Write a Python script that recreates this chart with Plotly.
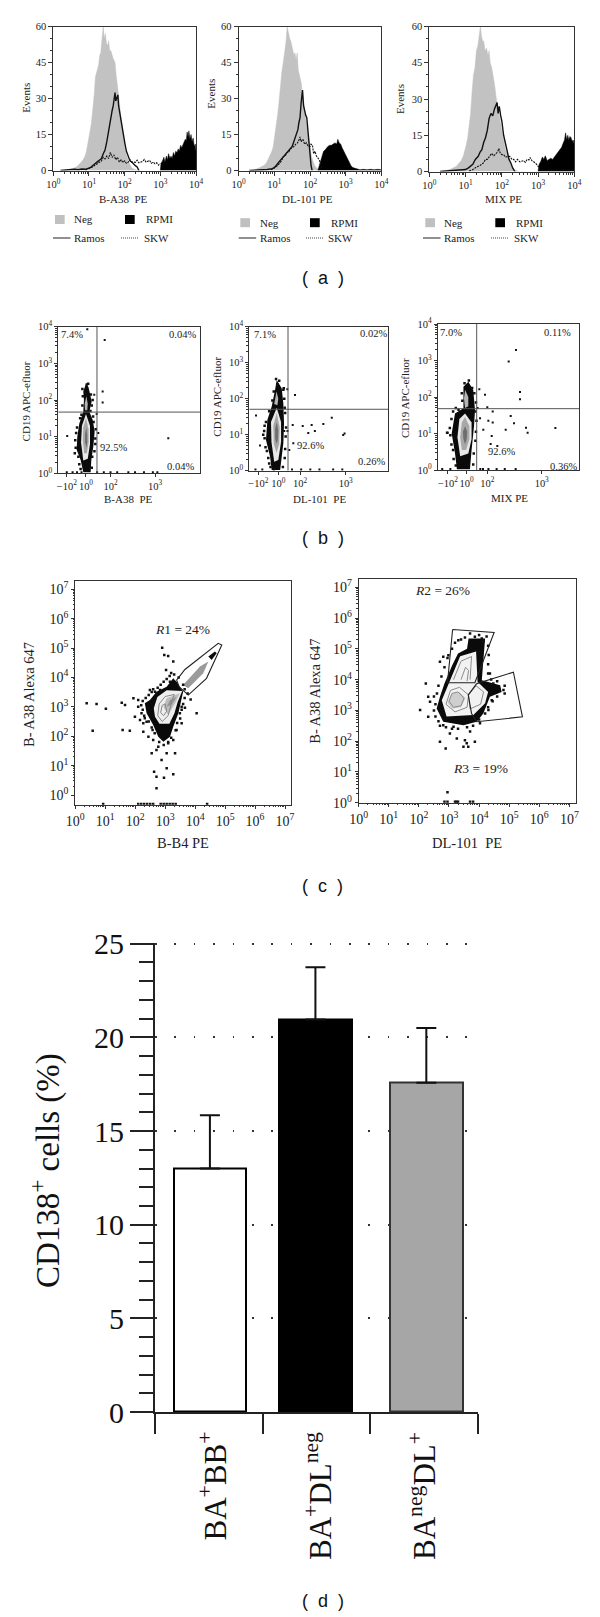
import numpy as np
import plotly.graph_objects as go

W, H = 600, 1617
SERIF = "Liberation Serif"
SANS = "Liberation Sans"
INK = "#222222"

# ---------- panel (a) histograms: log10(intensity), events ----------
a1_neg_x = [.3,.45,.55,.65,.72,.78,.84,.89,.93,.97,1.0,1.03,1.06,1.09,1.12,1.15,1.18,1.21,1.24,1.27,1.30,1.33,1.36,1.40,1.43,1.46,1.49,1.52,1.55,1.58,1.61,1.64,1.67,1.70,1.73,1.76,1.79,1.82,1.85,1.88,1.91,1.94,1.97,2.0,2.04,2.08,2.13,2.2,2.3,2.45]
a1_neg_y = [0,.3,.8,1.5,2.4,3.4,4.6,6,8,11,13,16,19,23,27,32,39,41,43,44,48,49,54,60,55,57,53,52,54,50,50,48,47,46,45,40,37,33,29,24,20,16,12,10,7,5,3,1,.3,0]
a1_ram_x = [.2,.4,.5,.6,.7,.8,.9,1.0,1.05,1.1,1.15,1.2,1.25,1.3,1.35,1.4,1.45,1.5,1.53,1.56,1.59,1.62,1.65,1.68,1.71,1.73,1.75,1.78,1.81,1.83,1.86,1.89,1.92,1.95,1.98,2.01,2.05,2.1,2.15,2.2,2.25,2.3,2.35,2.4]
a1_ram_y = [0,.3,.2,.5,.3,.6,.5,1,1.3,2,2.5,3,3.8,4.4,5,7,8.5,12,15,18,20,22,25,27,30,32.5,29,30,31.5,27,24,21,18,15,13,11,8,6,4,3.5,2.5,2,1.5,0]
a1_skw_x = [.9,1,1.1,1.2,1.3,1.35,1.4,1.45,1.5,1.55,1.6,1.65,1.7,1.75,1.8,1.85,1.9,1.95,2,2.05,2.1,2.15,2.2,2.3,2.35,2.4,2.5,2.55,2.6,2.7,2.75,2.8,2.85,2.9,2.95,3.0]
a1_skw_y = [.2,.8,1.5,2.5,3.5,4,5.5,4.8,6,5,7.5,5.5,6.5,4.5,5.5,3.5,4.5,3.3,4,3,3.5,4.5,3.6,3.4,4.3,3.2,3.8,4.6,3.5,4.2,3,3.5,2.8,3.2,2.2,3]
a1_rpm_x = [3.0,3.02,3.06,3.1,3.13,3.17,3.2,3.23,3.27,3.3,3.33,3.37,3.4,3.43,3.47,3.5,3.53,3.57,3.6,3.63,3.67,3.7,3.73,3.75,3.78,3.8,3.83,3.86,3.89,3.92,3.95,3.98,4.0]
a1_rpm_y = [0,3,4,5.5,3.5,6,4.5,7,5,6,5,7.5,6,8,7.5,9,8,10.5,9.5,11,12,13,12.5,16,14,16.5,13,15,12,13.5,10,11,8]

a2_neg_x = [.3,.45,.55,.65,.72,.78,.84,.89,.93,.97,1.0,1.03,1.06,1.09,1.12,1.15,1.18,1.21,1.24,1.27,1.30,1.33,1.36,1.40,1.43,1.46,1.49,1.52,1.55,1.58,1.61,1.64,1.67,1.70,1.73,1.76,1.79,1.82,1.85,1.88,1.91,1.94,1.97,2.0,2.04,2.08,2.13,2.2,2.28]
a2_neg_y = [0,.3,.9,1.5,2.2,3.2,5,6.5,8,10,13,15,18,23,27,33,38,41,44,47,52,54,60,56,55,54,51,50,48,49,46,49,42,40,37,36,30,27,24,20,17,14,12,9,6,4,2,.8,0]
a2_ram_x = [.3,.6,.8,.95,1.02,1.1,1.18,1.25,1.32,1.38,1.44,1.5,1.55,1.6,1.63,1.66,1.69,1.72,1.75,1.77,1.79,1.82,1.85,1.88,1.91,1.94,1.97,2.0,2.03,2.06]
a2_ram_y = [0,.2,.4,.8,1.5,3,4.5,5.7,7,8,9,10,12,14,15,17,20,22,28,30,33.5,27,24,23,22,17,12,6,2,0]
a2_skw_x = [.9,1.0,1.1,1.2,1.25,1.3,1.35,1.4,1.45,1.5,1.55,1.6,1.65,1.7,1.72,1.75,1.8,1.85,1.9,1.95,2.0,2.03,2.07,2.1,2.14,2.18,2.22,2.26,2.3,2.33]
a2_skw_y = [.3,1,2.2,4,5.7,6,7.5,7.5,9,9.5,10,11,11.5,13,14,12,13,11,11.5,10,10,11,10.5,7,8,6,5,4.5,2.5,.8]
a2_rpm_x = [2.22,2.26,2.3,2.34,2.38,2.42,2.46,2.5,2.55,2.6,2.65,2.7,2.75,2.78,2.82,2.86,2.9,2.95,3,3.05,3.1,3.15,3.2,3.3,3.4,3.5,3.6,3.7,3.8,3.9,4]
a2_rpm_y = [0,2,4,6.5,8,8.5,9.5,10,10.5,10.5,11,11.5,11,13,11.5,11,9.5,8,6.5,4.5,3.5,2,1.2,.6,.3,.5,.3,.5,.3,.5,.3]

a3_neg_x = [.3,.45,.6,.7,.75,.82,.88,.94,.98,1.02,1.06,1.1,1.14,1.18,1.22,1.26,1.3,1.34,1.38,1.41,1.44,1.47,1.5,1.54,1.58,1.62,1.65,1.68,1.72,1.76,1.8,1.85,1.9,1.95,2,2.05,2.1,2.15,2.2,2.27,2.35,2.45]
a3_neg_y = [0,.3,1,1.6,2.2,3.5,4.5,6.5,8.5,11,14,18,24,33,40,43,50,52,56,60,56,54,54,50,51,48,50,45,43,40,36,30,25,21,17,13,9,7,5,2,.8,0]
a3_ram_x = [.3,.7,.9,1.0,1.08,1.15,1.2,1.27,1.35,1.4,1.45,1.5,1.55,1.6,1.65,1.7,1.75,1.8,1.84,1.87,1.9,1.93,1.97,2.0,2.05,2.09,2.14,2.2,2.25,2.3,2.36]
a3_ram_y = [0,.3,.6,.8,1.5,2.5,3,5,6.3,8,9,12,14,17,22,24,23,26,28,28.5,24,27,23,21,15,12,8,5,3.5,1.5,0]
a3_skw_x = [1.1,1.2,1.3,1.4,1.49,1.55,1.6,1.67,1.72,1.78,1.83,1.88,1.92,1.96,2,2.05,2.1,2.15,2.22,2.28,2.33,2.38,2.43,2.5,2.55,2.6,2.65,2.7,2.75,2.78,2.83,2.88,2.93,3.0,3.05,3.2,3.4,3.6,3.8,4]
a3_skw_y = [.2,.8,1.8,2.5,3.5,5,5,6.3,7.5,6.5,7.5,8,9.5,7.5,7,7,6,6,6.3,5,5,4,5,4,4.2,4.5,3.8,5,4.8,5.8,4.5,4,3.5,2.2,.8,.5,.6,.4,.7,.5]
a3_rpm_x = [3.0,3.03,3.07,3.12,3.16,3.2,3.25,3.3,3.35,3.4,3.45,3.5,3.55,3.6,3.65,3.7,3.73,3.76,3.79,3.82,3.85,3.88,3.91,3.94,3.97,4]
a3_rpm_y = [0,3,4,6,5,6.5,4.5,5,5.5,5,6,7,8,9,10,12,13,16,13,15,13,14.5,14,12.5,13,11]

# ---------- panel (b) dot plots: biexponential position, log10(CD19) ----------
b1_outer = [(0,2.44),(.053,2.36),(.09,2.18),(.127,1.95),(.075,1.68),(.15,1.46),(.195,1.14),(.165,.73),(.12,.36),(.105,.03),(-.06,.03),(-.119,.36),(-.209,.64),(-.194,1.0),(-.149,1.36),(-.06,1.68),(-.045,2.0),(-.06,2.23)]
b1_white = [(0,1.62),(.09,1.3),(.09,.8),(.04,.4),(-.06,.35),(-.11,.85),(-.09,1.3)]
b1_gray = [(0,1.5),(.06,1.2),(.06,.85),(.02,.55),(-.04,.55),(-.07,.9),(-.06,1.25)]
b1_dark = [(.01,1.25),(.03,1.05),(.03,.85),(.01,.7),(-.02,.85),(-.02,1.05)]
b1_neck = [(.01,2.1),(.04,1.9),(.03,1.72),(-.02,1.72),(-.03,1.9)]
b1_dots_x = [.03,.42,.374,.374,1.845,-.42,.276,.186,.24,-.43,-.3,-.2,-.1,.25,.4,.55,.7,.95,1.1,1.3,1.5,1.6]
b1_dots_y = [3.93,3.64,2.23,1.93,.955,1.02,1.1,2.14,1.62,.03,.03,.03,.03,.03,.03,.03,.03,.03,.03,.03,.03,.03]
b1_edge_x = [-.23,-.25,-.22,-.2,-.17,-.15,-.13,-.1,-.12,.13,.14,.19,.21,.22,.17,.16,.1,.13,.15,.11,-.08,-.07,-.08,.05,.02,.21,-.24]
b1_edge_y = [.7,.55,1.1,1.25,.45,.25,1.5,1.6,.12,.15,.45,.6,.95,1.2,1.4,1.55,1.7,1.85,2.0,2.15,2.3,2.1,1.85,2.44,2.42,.8,.9]

b2_outer = [(-.035,2.52),(.074,2.29),(.11,1.87),(.125,1.32),(.11,.76),(.074,.30),(.04,.02),(-.145,.02),(-.18,.39),(-.27,.85),(-.24,1.41),(-.145,1.78),(-.072,2.24)]
b2_white = [(-.035,1.75),(.06,1.35),(.06,.8),(0,.3),(-.09,.25),(-.15,.8),(-.16,1.35)]
b2_gray = [(-.035,1.6),(.03,1.2),(.02,.75),(-.04,.5),(-.1,.75),(-.11,1.25)]
b2_dark = [(-.035,1.35),(0,1.1),(-.01,.85),(-.04,.75),(-.07,.9),(-.07,1.15)]
b2_neck = [(-.04,2.2),(.0,2.0),(-.02,1.82),(-.09,1.85)]
b2_dots_x = [.365,.197,-.488,.315,.534,.73,.985,1.17,1.42,1.45,.656,.8,.328,.24,.13,.2,-.2,-.4,-.5,-.35,-.1,.3,.5,.7,.9,1.2,1.4]
b2_dots_y = [2.1,2.26,1.53,1.27,1.24,1.27,1.3,1.47,.99,1.03,1.05,1.1,.76,.575,1.1,1.1,.65,.7,.03,.03,.03,.03,.03,.03,.03,.03,.03]
b2_edge_x = [-.3,-.31,-.28,-.25,-.22,-.2,-.17,.1,.14,.15,.16,.17,.15,.14,.13,.11,-.1,-.13,-.2,-.27,-.3,-.05,.02,-.02,.12,-.33]
b2_edge_y = [.9,1.1,.65,.55,.35,.2,.1,.1,.35,.6,.95,1.2,1.6,1.75,2.0,2.25,2.2,1.95,1.65,1.35,1.25,2.55,2.5,2.4,2.29,1.0]

b3_outer = [(.03,2.42),(.12,2.19),(.153,1.64),(.134,1.19),(.09,.55),(.06,.02),(-.18,.02),(-.215,.46),(-.276,1.0),(-.215,1.55),(-.06,1.69),(-.06,2.28)]
b3_white = [(-.03,1.55),(.09,1.3),(.09,.85),(.03,.45),(-.12,.38),(-.17,.9),(-.135,1.4)]
b3_gray = [(-.03,1.45),(.05,1.2),(.05,.85),(-.01,.55),(-.09,.55),(-.12,.9),(-.09,1.3)]
b3_dark = [(-.03,1.2),(.01,1.05),(0,.85),(-.03,.7),(-.06,.85),(-.07,1.05)]
b3_neck = [(-.03,2.2),(.03,2.0),(.03,1.75),(-.03,1.7),(-.05,1.95)]
b3_dots_x = [.906,.772,.98,.98,.232,.337,.379,.478,.809,.398,.478,.87,1.09,1.12,1.63,.717,.46,.563,.44,.305,.245,.2,.25,.3,.4,.55,.7,.9,-.45,-.3,-.35]
b3_dots_y = [3.29,2.97,2.14,1.94,2.21,2.06,1.72,1.6,1.48,1.35,1.3,1.28,1.16,1.02,1.15,1.1,.93,.66,.71,1.1,1.42,1.7,.03,.03,.03,.03,.03,.03,.03,.03,1.02]
b3_edge_x = [-.3,-.31,-.28,-.25,-.24,-.2,.12,.13,.16,.17,.18,.16,.17,.14,.1,-.09,-.08,-.25,-.28,.04,-.04,-.36,-.2,-.15]
b3_edge_y = [.95,1.15,.7,.55,.3,.12,.15,.45,.8,1.05,1.35,1.6,1.85,2.1,2.25,2.1,1.9,1.6,1.4,2.45,2.38,1.02,1.7,1.65]

quad_v = [.247, .212, .184]
quad_h = [1.67, 1.706, 1.68]
quad_labels = [["7.4%", "0.04%", "92.5%", "0.04%"], ["7.1%", "0.02%", "92.6%", "0.26%"], ["7.0%", "0.11%", "92.6%", "0.36%"]]

# ---------- panel (c) contour plots: log10 x, log10 y ----------
c1_black = [(2.32,3.12),(2.49,3.23),(2.71,3.51),(3.05,3.68),(3.27,3.97),(3.38,3.85),(3.6,3.51),(3.49,3.0),(3.44,2.78),(3.27,2.32),(3.16,1.98),(2.94,1.81),(2.77,1.98),(2.6,2.38),(2.38,2.78)]
c1_white = [(2.62,2.95),(2.74,3.33),(3.05,3.56),(3.57,3.54),(3.42,3.17),(3.31,2.78),(3.14,2.42),(2.81,2.42),(2.66,2.66)]
c1_gray = [(2.94,3.0),(3.05,3.29),(3.49,3.46),(3.33,3.12),(3.1,2.72)]
c1_dark = [(3.05,3.0),(3.16,3.23),(3.38,3.34),(3.21,3.06)]
c1_cont1 = [(2.75,2.7),(2.8,3.1),(3.0,3.35),(3.3,3.42),(3.2,3.1),(3.1,2.7),(2.9,2.5),(2.75,2.7)]
c1_cont2 = [(2.85,2.8),(2.9,3.05),(3.0,3.1),(3.05,2.85),(2.95,2.7),(2.85,2.8)]
c1_gate = [(3.38,3.91),(3.66,4.27),(4.77,5.16),(4.89,5.1),(4.38,3.97),(3.77,3.4),(3.47,3.68),(3.38,3.91)]
c1_streak = [(3.6,3.74),(4.16,4.37),(4.44,4.54),(4.27,4.14),(3.77,3.63)]
c1_tip = [(4.44,4.71),(4.66,4.88),(4.72,4.82),(4.55,4.59)]
c1_dots_x = [.38,.71,1.02,.58,1.58,1.66,1.82,1.55,1.94,2.10,1.99,2.16,2.38,2.27,4.05,3.66,2.90,2.97,3.10,3.27,3.03,3.16,2.83,2.66,2.49,2.55,2.71,2.88,3.05,3.05,3.27,2.96,2.63,2.71,2.71,3.33,2.60,2.77,3.10,3.27,3.38,3.55,2.27,2.44,3.49,3.55,2.10,2.21,2.32,2.58,2.1,2.2,2.3,2.4,2.5,2.6,2.85,2.95,3.05,3.15,3.25,3.35,.93,4.4]
c1_dots_y = [3.12,3.10,2.93,2.19,2.21,3.06,2.19,3.14,3.29,3.23,2.66,2.55,2.49,2.44,2.78,2.97,5.01,4.76,4.73,4.54,4.25,3.85,3.57,3.51,3.57,1.42,1.53,1.19,1.42,.91,.71,.59,.79,.62,.23,1.42,1.87,1.64,1.76,1.87,2.21,2.44,2.15,1.98,2.78,3.0,3.0,2.78,2.61,2.21,-.31,-.31,-.31,-.31,-.31,-.31,-.31,-.31,-.31,-.31,-.31,-.31,-.31,-.31]
c1_edge_x = [2.25,2.35,2.45,2.55,2.6,2.75,2.85,2.95,3.05,3.15,3.2,3.3,3.45,3.6,3.65,3.65,3.6,3.55,3.5,3.4,3.35,3.2,3.1,2.95,2.8,2.65,2.55,2.45,2.3,2.25,2.2,3.75,3.85]
c1_edge_y = [3.2,3.3,3.4,3.5,3.6,3.65,3.75,3.85,3.95,4.05,4.15,4.1,4.0,3.75,3.6,3.3,3.1,2.9,2.6,2.45,2.2,1.95,1.8,1.7,1.8,2.1,2.3,2.5,2.7,2.9,3.05,3.45,3.25]

c2_black = [(2.70,3.44),(2.85,3.87),(3.1,4.45),(3.3,4.85),(3.6,5.0),(3.65,5.34),(4.2,5.34),(4.15,4.63),(4.09,3.98),(4.7,3.82),(4.75,3.6),(4.36,3.44),(4.14,2.9),(3.92,2.63),(3.48,2.52),(2.81,2.63),(2.59,3.06)]
c2_white = [(2.76,3.33),(3.01,3.93),(3.37,4.76),(3.9,4.91),(3.95,3.93),(4.3,3.6),(4.2,3.23),(3.81,2.85),(2.92,2.8)]
c2_gray = [(2.95,3.25),(3.1,3.55),(3.35,3.6),(3.55,3.4),(3.4,3.1),(3.1,3.05)]
c2_cont1 = [(3.0,3.3),(3.1,3.55),(3.3,3.6),(3.5,3.4),(3.4,3.15),(3.15,3.1),(3.0,3.3)]
c2_cont2 = [(2.9,3.2),(3.05,3.65),(3.35,3.75),(3.65,3.5),(3.6,3.1),(3.2,2.95),(2.9,3.2)]
c2_cont3 = [(3.15,4.0),(3.4,4.6),(3.75,4.75),(3.7,4.0)]
c2_cont4 = [(3.4,4.0),(3.55,4.4),(3.65,4.3),(3.6,3.95)]
c2_cont5 = [(3.7,3.05),(3.65,3.5),(3.9,3.8),(4.15,3.6),(4.05,3.2),(3.7,3.05)]
c2_gate2 = [(3.12,5.63),(4.5,5.53),(3.86,3.9),(2.95,3.9),(3.12,5.63)]
c2_gate3 = [(3.92,3.87),(5.14,4.24),(5.44,2.79),(3.92,2.63),(3.75,2.9),(3.64,3.5),(3.92,3.87)]
c2_dots_x = [2.04,2.23,2.31,2.37,2.31,2.70,2.81,2.98,3.31,3.53,3.86,4.09,4.14,4.36,4.47,4.81,4.42,4.31,4.03,2.81,3.03,2.70,2.89,3.53,3.64,3.86,3.59,3.48,3.26,3.15,3.70,2.95,2.85,2.95,3.2,3.25,3.3,3.7,3.8]
c2_dots_y = [3.01,3.87,3.44,3.28,2.79,4.58,4.74,4.79,5.28,5.37,5.39,5.34,5.23,4.2,3.87,3.66,3.33,3.01,2.58,2.52,2.25,1.98,1.76,2.03,1.82,1.98,1.93,1.82,2.09,2.47,2.31,.34,.03,.03,.03,.03,.03,.03,.03]
c2_edge_x = [2.55,2.5,2.55,2.65,2.7,2.9,3.1,3.3,3.6,3.8,4.0,4.2,4.3,4.45,4.6,4.85,4.85,4.6,4.4,4.3,4.3,4.32,4.3,4.25,4.0,3.7,3.4,3.2,3.1,2.95,2.85,2.75,2.65,2.6,2.5]
c2_edge_y = [3.2,3.0,2.8,2.65,2.5,2.45,2.4,2.4,2.45,2.5,2.7,2.9,3.1,3.3,3.45,3.55,3.8,3.95,4.0,4.2,4.5,4.8,5.1,5.4,5.45,5.5,5.3,5.2,5.0,4.7,4.4,4.1,3.8,3.55,3.45]

# ---------- panel (d) bars ----------
bar_positions = [0.51, 1.49, 2.52]
bar_values = [13.0, 20.96, 17.58]
bar_errors = [2.84, 2.79, 2.92]
bar_colors = ["#ffffff", "#000000", "#a6a6a6"]
bar_edges = ["#000000", "#000000", "#333333"]
bar_labels = ["BA<sup>+</sup>BB<sup>+</sup>", "BA<sup>+</sup>DL<sup>neg</sup>", "BA<sup>neg</sup>DL<sup>+</sup>"]
bar_ticks = [5 * k for k in range(6)]

hist_ticks = ["10<sup>%d</sup>" % k for k in range(5)]
dec_ticks = ["10<sup>%d</sup>" % k for k in range(8)]

fig = go.Figure()
layout = {}
annots = []
shapes = []


def px_x(v):
    return v / W


def px_y(v):
    return 1 - v / H


def text(x, y, s, size=10.5, anchor="center", rot=0, family=SERIF, valign="middle", color=INK):
    annots.append(dict(x=px_x(x), y=px_y(y), xref="paper", yref="paper", text=s, showarrow=False,
                       xanchor=anchor, yanchor=valign, textangle=rot, borderpad=0,
                       font=dict(family=family, size=size, color=color)))


def axes(i, box, xo, yo):
    L, R, T, B = box
    sx = "" if i == 1 else str(i)
    layout["xaxis" + sx] = dict(domain=[px_x(L), px_x(R)], anchor="y" + sx, **xo)
    layout["yaxis" + sx] = dict(domain=[px_y(B), px_y(T)], anchor="x" + sx, **yo)
    return "x" + sx, "y" + sx


def pw(a):
    return np.power(10.0, np.array(a, dtype=float)).tolist()


def poly(xa, ya, pts, fill=None, line=None, width=1, logx=True, logy=True, dash=None):
    xs = [p[0] for p in pts]
    ys = [p[1] for p in pts]
    fig.add_trace(go.Scatter(
        x=pw(xs) if logx else xs, y=pw(ys) if logy else ys, xaxis=xa, yaxis=ya, mode="lines",
        fill="toself" if fill else None, fillcolor=fill,
        line=dict(color=line or "rgba(0,0,0,0)", width=width if line else 0, dash=dash),
        showlegend=False, hoverinfo="skip"))


def dots(xa, ya, xs, ys, size=2, logx=True):
    fig.add_trace(go.Scatter(
        x=pw(xs) if logx else xs, y=pw(ys), xaxis=xa, yaxis=ya, mode="markers",
        marker=dict(symbol="square", size=size, color="#111111", line=dict(width=0)),
        showlegend=False, hoverinfo="skip"))


def axis_common(size):
    return dict(showgrid=False, zeroline=False, showline=True, linecolor="#333333", linewidth=1, mirror=True,
                ticks="outside", tickcolor="#333333", tickwidth=1, tickangle=0, automargin=False,
                tickfont=dict(family=SERIF, size=size, color=INK))


def log_minor(n):
    return [m * 10.0 ** d for d in range(n) for m in range(2, 10)]


# ---------- (a) ----------
a_boxes = [(53.3, 196, 26.5, 170.5), (238.7, 381.3, 26.5, 170.5), (429.3, 574.3, 26.5, 171.5)]
a_series = [(a1_neg_x, a1_neg_y, a1_rpm_x, a1_rpm_y, a1_ram_x, a1_ram_y, a1_skw_x, a1_skw_y),
            (a2_neg_x, a2_neg_y, a2_rpm_x, a2_rpm_y, a2_ram_x, a2_ram_y, a2_skw_x, a2_skw_y),
            (a3_neg_x, a3_neg_y, a3_rpm_x, a3_rpm_y, a3_ram_x, a3_ram_y, a3_skw_x, a3_skw_y)]
a_titles = ["B-A38  PE", "DL-101 PE", "MIX PE"]
a_title_x = [123.5, 307.5, 503]
a_ev = [(25.7, 98), (210.7, 94), (400, 99)]
for i, (box, s) in enumerate(zip(a_boxes, a_series)):
    xo = axis_common(10.5)
    xo.update(type="log", range=[0, 4], tickmode="array", tickvals=pw([0, 1, 2, 3, 4]), ticktext=hist_ticks,
              ticklen=4, minor=dict(tickmode="array", tickvals=log_minor(4), ticks="outside", ticklen=2,
                                    tickcolor="#333333", tickwidth=1))
    yo = axis_common(10.5)
    yo.update(range=[0, 60], tickmode="array", tickvals=[0, 15, 30, 45, 60], ticklen=4,
              minor=dict(dtick=5, ticks="outside", ticklen=2, tickcolor="#333333", tickwidth=1))
    xa, ya = axes(i + 1, box, xo, yo)
    fig.add_trace(go.Scatter(x=pw(s[0]), y=s[1], xaxis=xa, yaxis=ya, mode="lines", fill="tozeroy",
                             fillcolor="#c2c2c2", line=dict(color="#c2c2c2", width=0.5), showlegend=False, hoverinfo="skip"))
    fig.add_trace(go.Scatter(x=pw(s[2]), y=s[3], xaxis=xa, yaxis=ya, mode="lines", fill="tozeroy",
                             fillcolor="#000000", line=dict(color="#000000", width=0.5), showlegend=False, hoverinfo="skip"))
    fig.add_trace(go.Scatter(x=pw(s[4]), y=s[5], xaxis=xa, yaxis=ya, mode="lines",
                             line=dict(color="#111111", width=1.4), showlegend=False, hoverinfo="skip"))
    fig.add_trace(go.Scatter(x=pw(s[6]), y=s[7], xaxis=xa, yaxis=ya, mode="lines",
                             line=dict(color="#111111", width=1.1, dash="2px,1px"), showlegend=False, hoverinfo="skip"))
    text(a_title_x[i], 199, a_titles[i], 11)
    text(a_ev[i][0], a_ev[i][1], "Events", 11, rot=-90)

leg = [(55, 125, 73, 145, 53, 121, 143, 219.5),
       (240.3, 310, 258.5, 330, 238.7, 306, 327.5, 222.7),
       (425.3, 495.3, 443, 515, 423, 491, 512.7, 222.7)]
for sw1, sw2, tx1, tx2, ln1, ln2, tx3, ry in leg:
    for sx, col in ((sw1, "#c0c0c0"), (sw2, "#000000")):
        shapes.append(dict(type="rect", xref="paper", yref="paper", x0=px_x(sx), x1=px_x(sx + 9.7),
                           y0=px_y(ry - 4.5), y1=px_y(ry + 4.5), fillcolor=col, line=dict(width=0)))
    shapes.append(dict(type="line", xref="paper", yref="paper", x0=px_x(ln1), x1=px_x(ln1 + 17.5),
                       y0=px_y(238), y1=px_y(238), line=dict(color="#222222", width=1)))
    shapes.append(dict(type="line", xref="paper", yref="paper", x0=px_x(ln2), x1=px_x(ln2 + 17.5),
                       y0=px_y(238), y1=px_y(238), line=dict(color="#444444", width=1, dash="1px,1px")))
    text(tx1, ry, "Neg", 11, "left")
    text(tx2, ry, "RPMI", 11, "left")
    text(tx1, 238, "Ramos", 11, "left")
    text(tx3, 238, "SKW", 11, "left")

# ---------- (b) ----------
b_boxes = [(58.3, 200, 326.7, 473.3), (249.3, 388.3, 326.7, 470.7), (437.7, 579.3, 324, 470)]
b_range = [[-.62, 2.556], [-.635, 2.407], [-.533, 2.07]]
b_tickv = [[-.43, 0, .55, 1.55], [-.438, 0, .475, 1.475], [-.344, 0, .379, 1.379]]
b_ticktext = ["\u221210<sup>2</sup>", "10<sup>0</sup>", "10<sup>2</sup>", "10<sup>3</sup>"]
b_sets = [(b1_outer, b1_white, b1_gray, b1_dark, b1_neck, b1_dots_x, b1_dots_y, b1_edge_x, b1_edge_y),
          (b2_outer, b2_white, b2_gray, b2_dark, b2_neck, b2_dots_x, b2_dots_y, b2_edge_x, b2_edge_y),
          (b3_outer, b3_white, b3_gray, b3_dark, b3_neck, b3_dots_x, b3_dots_y, b3_edge_x, b3_edge_y)]
b_xt = [("B-A38  PE", 128, 499), ("DL-101  PE", 319.3, 499), ("MIX PE", 509, 498)]
b_yt = [(25.7, 401.7), (216.7, 397), (405, 398)]
b_lab = [[(60, 334, "left"), (196.7, 334.7, "right"), (99.3, 448, "left"), (195, 466.7, "right")],
         [(253.3, 334, "left"), (388, 333.3, "right"), (295.7, 445, "left"), (386, 461.7, "right")],
         [(439.3, 332.7, "left"), (571.7, 332, "right"), (486.7, 451.7, "left"), (578, 466, "right")]]
for i in range(3):
    xo = axis_common(10.5)
    xo.update(range=b_range[i], tickmode="array", tickvals=b_tickv[i], ticktext=b_ticktext, ticklen=3)
    yo = axis_common(10.5)
    yo.update(type="log", range=[0, 4], tickmode="array", tickvals=pw([0, 1, 2, 3, 4]), ticktext=hist_ticks, ticklen=3,
              minor=dict(tickmode="array", tickvals=log_minor(4), ticks="outside", ticklen=2,
                         tickcolor="#333333", tickwidth=1))
    xa, ya = axes(i + 4, b_boxes[i], xo, yo)
    o, wh, g, d, n, dx, dy, ex, ey = b_sets[i]
    poly(xa, ya, o, fill="#0a0a0a", logx=False)
    poly(xa, ya, wh, fill="#e8e8e8", logx=False)
    poly(xa, ya, g, fill="#a8a8a8", logx=False)
    poly(xa, ya, d, fill="#6e6e6e", logx=False)
    poly(xa, ya, n, fill="#b5b5b5", logx=False)
    dots(xa, ya, dx, dy, size=2, logx=False)
    dots(xa, ya, ex, ey, size=2.5, logx=False)
    poly(xa, ya, [(quad_v[i], 0), (quad_v[i], 4)], line="#555555", width=1, logx=False)
    poly(xa, ya, [(b_range[i][0], quad_h[i]), (b_range[i][1], quad_h[i])], line="#555555", width=1, logx=False)
    text(b_xt[i][1], b_xt[i][2], b_xt[i][0], 11)
    text(b_yt[i][0], b_yt[i][1], "CD19 APC-efluor", 11, rot=-90)
    for (lx, ly, an), lab in zip(b_lab[i], quad_labels[i]):
        text(lx, ly, lab, 10.5, an)

# ---------- (c) ----------
c_boxes = [(75.3, 291.3, 581.3, 804.7), (358.7, 575.7, 579.3, 802.7)]
c_xr = [[0, 7.21], [0, 7.21]]
c_yr = [[-.33, 7.27], [0, 7.26]]
for i in range(2):
    xo = axis_common(14)
    xo.update(type="log", range=c_xr[i], tickmode="array", tickvals=pw(list(range(8))), ticktext=dec_ticks, ticklen=3,
              minor=dict(tickmode="array", tickvals=log_minor(7), ticks="outside", ticklen=1.5,
                         tickcolor="#333333", tickwidth=1))
    yo = axis_common(14)
    yo.update(type="log", range=c_yr[i], tickmode="array", tickvals=pw(list(range(8))), ticktext=dec_ticks, ticklen=3,
              minor=dict(tickmode="array", tickvals=log_minor(7), ticks="outside", ticklen=1.5,
                         tickcolor="#333333", tickwidth=1))
    axes(i + 7, c_boxes[i], xo, yo)

xa, ya = "x7", "y7"
poly(xa, ya, c1_black, fill="#0a0a0a")
poly(xa, ya, c1_white, fill="#eeeeee")
poly(xa, ya, c1_gray, fill="#bdbdbd")
poly(xa, ya, c1_dark, fill="#949494")
poly(xa, ya, c1_cont1, line="#888888", width=1)
poly(xa, ya, c1_cont2, line="#888888", width=1)
poly(xa, ya, c1_streak, fill="#9a9a9a")
poly(xa, ya, c1_tip, fill="#0a0a0a")
dots(xa, ya, c1_dots_x, c1_dots_y, size=2.5)
dots(xa, ya, c1_edge_x, c1_edge_y, size=2.5)
poly(xa, ya, c1_gate, line="#222222", width=1.1)
text(182.7, 629, "<i>R</i>1 = 24%", 13.5)
text(183, 843, "B-B4 PE", 14.5)
text(29, 695, "B- A38 Alexa 647", 14.5, rot=-90)

xa, ya = "x8", "y8"
poly(xa, ya, c2_black, fill="#0a0a0a")
poly(xa, ya, c2_white, fill="#f2f2f2")
poly(xa, ya, c2_gray, fill="#cfcfcf")
for cont in (c2_cont1, c2_cont2, c2_cont3, c2_cont4, c2_cont5):
    poly(xa, ya, cont, line="#8a8a8a", width=1)
dots(xa, ya, c2_dots_x, c2_dots_y, size=2.5)
dots(xa, ya, c2_edge_x, c2_edge_y, size=2.5)
poly(xa, ya, c2_gate2, line="#222222", width=1.1)
poly(xa, ya, c2_gate3, line="#222222", width=1.1)
text(442.7, 590.7, "<i>R</i>2 = 26%", 13.5)
text(480, 768, "<i>R</i>3 = 19%", 13.5)
text(467, 843, "DL-101  PE", 14.5)
text(315, 691.7, "B- A38 Alexa 647", 14.5, rot=-90)

# ---------- (d) ----------
xo = dict(range=[0, 3], tickmode="array", tickvals=[0, 1, 2, 3], ticktext=["", "", "", ""], ticks="outside",
          ticklen=20, tickwidth=2, tickcolor="#222222", showline=True, linecolor="#222222", linewidth=2,
          showgrid=False, zeroline=False)
yo = dict(range=[0, 25.06], tickmode="array", tickvals=bar_ticks, ticks="outside", ticklen=23, tickwidth=2,
          tickcolor="#222222", showline=True, linecolor="#222222", linewidth=2, zeroline=False,
          showgrid=True, gridcolor="#333333", gridwidth=2, griddash="1.5px,17.9px",
          tickfont=dict(family=SERIF, size=30, color="#111111"),
          minor=dict(dtick=1, ticks="outside", ticklen=14, tickwidth=2, tickcolor="#222222", showgrid=False))
axes(9, (155, 478, 942.6, 1412), xo, yo)
fig.add_trace(go.Bar(x=bar_positions, y=bar_values, width=0.675, xaxis="x9", yaxis="y9",
                     marker=dict(color=bar_colors, line=dict(color=bar_edges, width=2)),
                     error_y=dict(type="data", symmetric=False, array=bar_errors, arrayminus=[0, 0, 0],
                                  color="#111111", thickness=2, width=10),
                     showlegend=False, hoverinfo="skip"))
text(45, 1171, "CD138<sup>+</sup> cells (%)", 33, rot=-90, color="#111111")
for xp, lab in zip((213, 318, 422), bar_labels):
    text(xp, 1431, lab, 31, rot=-90, valign="top", color="#111111")

for lab, ypos in (("a", 278), ("b", 538), ("c", 886), ("d", 1601)):
    text(322.5, ypos, "(\u00a0\u00a0%s\u00a0\u00a0)" % lab, 18, family=SANS, color="#111111")

fig.update_layout(width=W, height=H, margin=dict(l=0, r=0, t=0, b=0, pad=0, autoexpand=False),
                  paper_bgcolor="white", plot_bgcolor="rgba(0,0,0,0)",
                  showlegend=False, annotations=annots, shapes=shapes, bargap=0, **layout)
fig.write_html("out.html", post_script="document.body.style.margin='0';", config={"displayModeBar": False})
